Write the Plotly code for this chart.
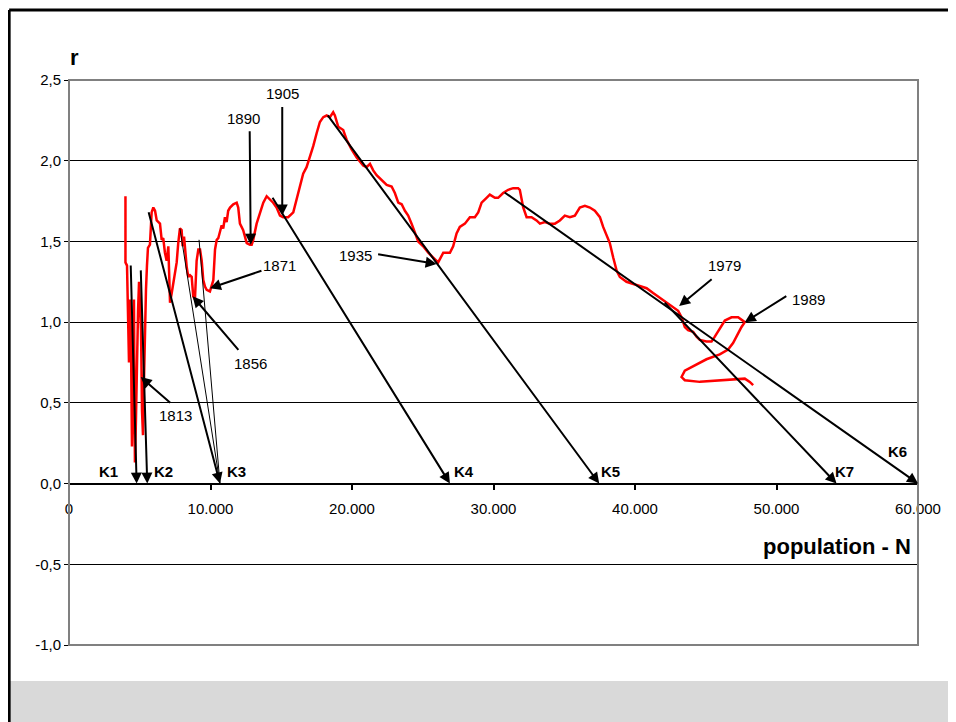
import plotly.graph_objects as go

# growth rate r against population N
pop_N = [3990, 3990, 4100, 4170, 4240, 4310, 4380, 4450, 4520, 4590,
         4660, 4730, 4800, 4880, 4950, 5020, 5090, 5160, 5230, 5300,
         5370, 5440, 5510, 5580, 5720, 5840, 5960, 6080, 6200, 6310,
         6430, 6550, 6660, 6780, 6900, 7020, 7140, 7260, 7370, 7490,
         7610, 7720, 7840, 7960, 8030, 8130, 8200, 8320, 8430, 8550,
         8670, 8780, 8900, 9020, 9140, 9260, 9380, 9490, 9610, 9730,
         9960, 10200, 10320, 10440, 10550, 10670, 10790, 10900, 11020, 11140,
         11250, 11380, 11610, 11850, 11960, 12080, 12310, 12560, 12790, 12910,
         13020, 13260, 13490, 13730, 13970, 14200, 14430, 14670, 14910, 15140,
         15490, 15850, 16090, 16200, 16320, 16550, 16790, 17030, 17260, 17500,
         17730, 17970, 18210, 18440, 18670, 18790, 19030, 19380, 19620, 19970,
         20330, 20790, 21030, 21270, 21500, 21740, 22090, 22450, 22800, 23030,
         23270, 23510, 23740, 23970, 24210, 24450, 24680, 25030, 25390, 25740,
         26090, 26450, 26920, 27150, 27390, 27620, 27980, 28330, 28680, 28920,
         29160, 29510, 29740, 30100, 30330, 30680, 31040, 31390, 31740, 31860,
         32100, 32340, 32690, 33040, 33280, 33630, 33980, 34340, 34690, 35040,
         35400, 35750, 36100, 36460, 36810, 37160, 37520, 37750, 37990, 38220,
         38460, 38700, 38930, 39400, 40110, 40820, 41280, 41750, 42230, 42690,
         43050, 43290, 43520, 43750, 44110, 44350, 44580, 45050, 45410, 45640,
         45990, 46350, 46820, 47290, 47760, 47530, 47290, 46930, 46580, 45990,
         45050, 44110, 43520, 43290, 43520, 44580, 45990, 47170, 47760, 48110,
         48350]
pop_r = [1.78, 1.37, 1.35, 1.01, 0.75, 1.14, 0.89, 0.23, 0.52, 1.14,
         0.13, 0.39, 0.82, 1.07, 1.25, 1.14, 0.95, 0.45, 0.30, 0.64,
         1.01, 1.20, 1.35, 1.46, 1.48, 1.68, 1.71, 1.69, 1.63, 1.62,
         1.61, 1.51, 1.52, 1.43, 1.38, 1.47, 1.12, 1.18, 1.24, 1.28,
         1.37, 1.49, 1.58, 1.57, 1.47, 1.53, 1.45, 1.34, 1.28, 1.29,
         1.28, 1.16, 1.14, 1.38, 1.45, 1.45, 1.38, 1.26, 1.22, 1.20,
         1.19, 1.26, 1.45, 1.51, 1.52, 1.57, 1.60, 1.58, 1.65, 1.62,
         1.69, 1.71, 1.73, 1.74, 1.71, 1.61, 1.57, 1.49, 1.48, 1.48,
         1.51, 1.61, 1.68, 1.74, 1.78, 1.76, 1.74, 1.71, 1.66, 1.65,
         1.65, 1.68, 1.76, 1.81, 1.84, 1.92, 1.96, 2.02, 2.09, 2.17,
         2.24, 2.27, 2.28, 2.27, 2.30, 2.28, 2.21, 2.19, 2.13, 2.07,
         2.02, 1.97, 1.96, 1.98, 1.94, 1.91, 1.88, 1.85, 1.84, 1.80,
         1.74, 1.73, 1.69, 1.66, 1.61, 1.55, 1.50, 1.47, 1.43, 1.40,
         1.37, 1.43, 1.43, 1.47, 1.55, 1.59, 1.61, 1.65, 1.65, 1.68,
         1.74, 1.77, 1.79, 1.77, 1.77, 1.80, 1.82, 1.83, 1.83, 1.82,
         1.71, 1.65, 1.65, 1.63, 1.61, 1.62, 1.61, 1.61, 1.63, 1.66,
         1.65, 1.66, 1.71, 1.72, 1.71, 1.69, 1.65, 1.59, 1.54, 1.49,
         1.40, 1.32, 1.28, 1.25, 1.23, 1.21, 1.18, 1.15, 1.12, 1.09,
         1.07, 1.03, 0.97, 0.95, 0.94, 0.91, 0.89, 0.88, 0.88, 0.91,
         0.96, 1.01, 1.03, 1.03, 1.00, 0.97, 0.93, 0.87, 0.83, 0.80,
         0.77, 0.73, 0.70, 0.66, 0.64, 0.63, 0.64, 0.65, 0.65, 0.63,
         0.61]

# tangent lines K1..K7: start point and where they hit r = 0
k_labels = ["K1", "K2", "K3", "K4", "K5", "K6", "K7"]
k_start_N = [4360, 5070, 5600, 14320, 18210, 30680, 42000]
k_start_r = [1.36, 1.33, 1.69, 1.78, 2.29, 1.81, 1.13]
k_end_N = [4780, 5530, 10670, 26920, 37470, 60000, 54240]

# extra thin lines running into K3
k3_thin_N = [7840, 9190]
k3_thin_r = [1.58, 1.51]

# year markers on the curve
years = ["1813", "1856", "1871", "1890", "1905", "1935", "1979", "1989"]
year_N = [5070, 8740, 9960, 12840, 15070, 25980, 43120, 47760]
year_r = [0.66, 1.16, 1.21, 1.48, 1.66, 1.36, 1.10, 1.00]

x_ticks = [0, 10000, 20000, 30000, 40000, 50000, 60000]
x_tick_labels = ["0", "10.000", "20.000", "30.000", "40.000", "50.000", "60.000"]
y_ticks = [-1.0, -0.5, 0.0, 0.5, 1.0, 1.5, 2.0, 2.5]
y_tick_labels = ["-1,0", "-0,5", "0,0", "0,5", "1,0", "1,5", "2,0", "2,5"]

FONT = "Arial, Liberation Sans, sans-serif"

fig = go.Figure()

fig.add_trace(go.Scatter(x=pop_N, y=pop_r, mode="lines",
                         line=dict(color="#ff0000", width=2.5), hoverinfo="skip"))

thin_x, thin_y = [], []
for n, r in zip(k3_thin_N, k3_thin_r):
    thin_x += [n, k_end_N[2], None]
    thin_y += [r, 0, None]
fig.add_trace(go.Scatter(x=thin_x, y=thin_y, mode="lines",
                         line=dict(color="black", width=1), hoverinfo="skip"))

annotations = []
# tangent arrows
k_label_shift = [(-28, 12), (16, 12), (17, 12), (14, 12), (11, 12), (-21, 32), (8, 12)]
for lab, n0, r0, n1, (dx, dy) in zip(k_labels, k_start_N, k_start_r, k_end_N, k_label_shift):
    annotations.append(dict(x=n1, y=0, ax=n0, ay=r0, xref="x", yref="y", axref="x", ayref="y",
                            text="", showarrow=True, arrowhead=2, arrowsize=1.1,
                            arrowwidth=2, arrowcolor="black", standoff=0))
    annotations.append(dict(x=n1, y=0, xref="x", yref="y", text="<b>%s</b>" % lab,
                            showarrow=False, xshift=dx, yshift=dy,
                            font=dict(family=FONT, size=15, color="black")))

# year arrows: (tail dx, tail dy, text dx, text dy) in pixels from the tip
year_offsets = [(31, 27, 35, 38), (47, 55, 58, 67), (53, -18, 70, -23), (-1, -115, -7, -126),
                (0, -110, 0, -122), (-60, -10, -81, -9), (34, -28, 45, -41), (43, -27, 64, -23)]
for y_lab, n, r, (ax, ay, tx, ty) in zip(years, year_N, year_r, year_offsets):
    annotations.append(dict(x=n, y=r, xref="x", yref="y", ax=ax, ay=ay, text="",
                            showarrow=True, arrowhead=2, arrowsize=1.1, arrowwidth=2,
                            arrowcolor="black", standoff=0))
    annotations.append(dict(x=n, y=r, xref="x", yref="y", text=y_lab, showarrow=False,
                            xshift=tx, yshift=-ty,
                            font=dict(family=FONT, size=15, color="black")))

annotations.append(dict(x=0.007, y=1.039, xref="paper", yref="paper", text="<b>r</b>",
                        xanchor="center", yanchor="middle", showarrow=False,
                        font=dict(family=FONT, size=22, color="black")))
annotations.append(dict(x=0.994, y=0.1735, xref="paper", yref="paper", xanchor="right",
                        yanchor="middle", text="<b>population - N</b>", showarrow=False,
                        font=dict(family=FONT, size=22, color="black")))

shapes = [
    # stone strip at the bottom of the slide
    dict(type="rect", xref="paper", yref="paper", x0=-0.0695, x1=1.06, y0=-0.15, y1=-0.0637,
         fillcolor="#d9d9d9", line=dict(width=0), layer="below"),
    # slide frame
    dict(type="line", xref="paper", yref="paper", x0=-0.0705, x1=-0.0705, y0=-0.15, y1=1.124,
         line=dict(color="black", width=3)),
    dict(type="line", xref="paper", yref="paper", x0=-0.0705, x1=1.06, y0=1.124, y1=1.124,
         line=dict(color="black", width=3)),
    # plot area border
    dict(type="rect", xref="paper", yref="paper", x0=0, x1=1, y0=0, y1=1,
         line=dict(color="#808080", width=2), layer="above"),
]

# the page puts the figure 8px in from the top-left corner
fig.update_layout(
    width=948, height=714,
    margin=dict(l=61, r=38, t=72, b=77),
    paper_bgcolor="white", plot_bgcolor="white",
    showlegend=False,
    font=dict(family=FONT, size=15, color="black"),
    xaxis=dict(range=[0, 60000], tickvals=x_ticks, ticktext=x_tick_labels,
               showgrid=False, zeroline=False, showline=True, linecolor="black", linewidth=2,
               ticks="outside", ticklen=5, tickcolor="black", tickwidth=1.5,
               anchor="free", position=1 / 3.5, ticklabelstandoff=6),
    yaxis=dict(range=[-1, 2.5], tickvals=y_ticks, ticktext=y_tick_labels,
               showgrid=True, gridcolor="black", gridwidth=1, zeroline=False,
               showline=True, linecolor="black", linewidth=1,
               ticks="outside", ticklen=4, tickcolor="black"),
    annotations=annotations,
    shapes=shapes,
)

fig.write_html("out.html")
